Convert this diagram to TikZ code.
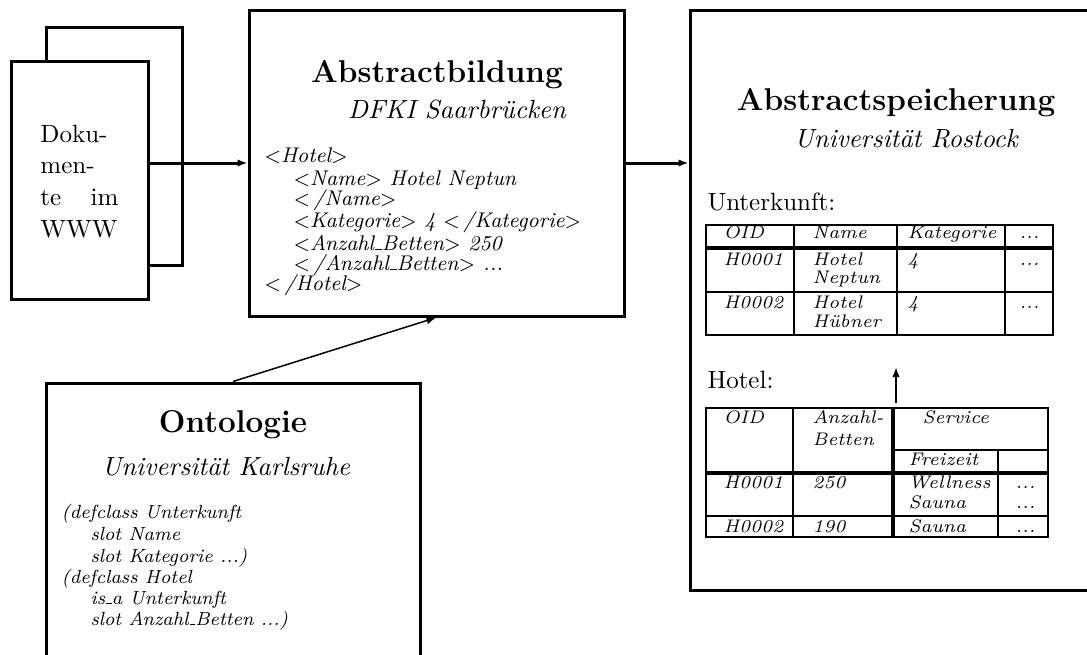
\documentclass[tikz,border=0pt]{standalone}
\usetikzlibrary{arrows.meta,fit}
\newcommand\usc{\leavevmode\kern.06em\vbox{\hrule width.3em height .45pt}}
\begin{document}
\begin{tikzpicture}[x=0.4pt,y=-0.4pt,
  box/.style={draw, line width=1.2pt, inner sep=0pt, rectangle},
  boxline/.style={line width=1.2pt},
  tline/.style={line width=0.8pt},
  tsep/.style={line width=1.3pt},
  arr/.style={-{Latex[length=4pt,width=3pt]}, line width=1.2pt},
  thinarr/.style={-{Latex[length=4pt,width=3pt]}, line width=0.6pt},
  uparr/.style={-{Latex[length=4pt,width=3pt]}, line width=0.8pt},
  lbl/.style={anchor=base west, inner sep=0pt, font=\fontsize{10}{12}\selectfont},
  ttl/.style={anchor=base, inner sep=0pt, font=\fontsize{12.6}{14}\selectfont\bfseries},
  sub/.style={anchor=base, inner sep=0pt, font=\fontsize{10.5}{12}\selectfont\itshape},
  code/.style={anchor=base west, inner sep=0pt, font=\fontsize{8.5}{10}\selectfont\itshape},
  ocode/.style={anchor=base west, inner sep=0pt, font=\fontsize{7.6}{10}\selectfont\itshape},
  cell/.style={anchor=base west, inner sep=0pt, font=\fontsize{7.3}{9}\selectfont\itshape}]
\clip (0,0) rectangle (1087,654);

% ---------- documents ----------
\draw[boxline] (46,61) -- (46,27) -- (182,27) -- (182,265) -- (148,265);
\node[box, fit={(11,61)(148,299)}] (docs) {};
\node[lbl] (d1) at (40,142) {Doku-};
\node[lbl] (d2) at (40,173) {men-};
\node[lbl] (d3) at (40,205) {\makebox[31.2pt][s]{te im}};
\node[lbl] (d4) at (40,237) {WWW};

% ---------- Abstractbildung ----------
\node[box, fit={(249,10)(624,316)}] (abst) {};
\node[ttl] (abtitle) at (437,82) {Abstractbildung};
\node[sub] (absub) at (457,118) {DFKI Saarbr\"ucken};
\node[code] (c1) at (264,162) {$<$Hotel$>$};
\node[code] (c2) at (293,185) {$<$Name$>$ Hotel Neptun};
\node[code] (c3) at (293,205) {$<$\,/Name$>$};
\node[code] (c4) at (293,227) {$<$Kategorie$>$ 4 $<$\,/Kategorie$>$};
\node[code] (c5) at (293,250) {$<$Anzahl\usc Betten$>$ 250};
\node[code] (c6) at (293,270) {$<$\,/Anzahl\usc Betten$>$ ...};
\node[code] (c7) at (264,290) {$<$\,/Hotel$>$};

% ---------- Ontologie ----------
\node[box, fit={(46,383)(420,700)}] (onto) {};
\node[ttl] (ontitle) at (233,432) {Ontologie};
\node[sub] (onsub) at (226,475) {Universit\"at Karlsruhe};
\node[ocode] (o1) at (61,518) {(defclass Unterkunft};
\node[ocode] (o2) at (90,540) {slot Name};
\node[ocode] (o3) at (90,562) {slot Kategorie ...)};
\node[ocode] (o4) at (61,583) {(defclass Hotel};
\node[ocode] (o5) at (90,604) {is\usc a Unterkunft};
\node[ocode] (o6) at (90,625) {slot Anzahl\usc Betten ...)};

% ---------- Abstractspeicherung ----------
\node[box, fit={(690,10)(1110,590)}] (spei) {};
\node[ttl] (sptitle) at (896,110) {Abstractspeicherung};
\node[sub] (spsub) at (906,147) {Universit\"at Rostock};
\node[lbl] (unt) at (707,210) {Unterkunft:};
\node[lbl] (hot) at (707,388) {Hotel:};

% table Unterkunft
\node[fit={(706,225)(1053,335)}, inner sep=0pt, draw, tline] (ttab) {};
\draw[tsep] (706,248) -- (1053,248);
\draw[tline] (706,292) -- (1053,292);
\draw[tline] (794,225) -- (794,335);
\draw[tline] (897,225) -- (897,335);
\draw[tline] (1005,225) -- (1005,335);
\node[cell] (u11) at (723,238) {OID};
\node[cell] (u12) at (812,238) {Name};
\node[cell] (u13) at (907,238) {Kategorie};
\node[cell] (u14) at (1019,238) {...};
\node[cell] (u21) at (723,265) {H0001};
\node[cell] (u22) at (812,265) {Hotel};
\node[cell] (u22b) at (812,283) {Neptun};
\node[cell] (u23) at (907,265) {4};
\node[cell] (u24) at (1019,265) {...};
\node[cell] (u31) at (723,308) {H0002};
\node[cell] (u32) at (812,308) {Hotel};
\node[cell] (u32b) at (812,327) {H\"ubner};
\node[cell] (u33) at (907,308) {4};
\node[cell] (u34) at (1019,308) {...};

% table Hotel
\node[fit={(706,408)(1048,537)}, inner sep=0pt, draw, tline] (htab) {};
\draw[tline] (893,450) -- (1048,450);
\draw[tsep] (706,473) -- (1048,473);
\draw[tline] (706,516) -- (1048,516);
\draw[tline] (793,408) -- (793,537);
\draw[tsep] (893,408) -- (893,537);
\draw[tline] (998,450) -- (998,537);
\node[cell] (h11) at (723,423) {OID};
\node[cell] (h12) at (812,423) {Anzahl-};
\node[cell] (h12b) at (812,445) {Betten};
\node[cell] (h13) at (922,423) {Service};
\node[cell] (h14) at (908,465) {Freizeit};
\node[cell] (h21) at (723,488) {H0001};
\node[cell] (h22) at (812,488) {250};
\node[cell] (h23) at (908,488) {Wellness};
\node[cell] (h23b) at (908,508) {Sauna};
\node[cell] (h24) at (1015,488) {...};
\node[cell] (h24b) at (1015,508) {...};
\node[cell] (h31) at (723,532) {H0002};
\node[cell] (h32) at (812,532) {190};
\node[cell] (h33) at (908,532) {Sauna};
\node[cell] (h34) at (1015,532) {...};

% ---------- connectors ----------
\draw[arr] (abst.west -| docs.east) -- (abst.west);
\draw[arr] (abst.east) -- (abst.east -| spei.west);
\draw[thinarr] (onto.north) -- (abst.south);
\coordinate (ua) at (896,403);
\coordinate (ub) at (896,367);
\draw[uparr] (ua) -- (ub);
\end{tikzpicture}
\end{document}
